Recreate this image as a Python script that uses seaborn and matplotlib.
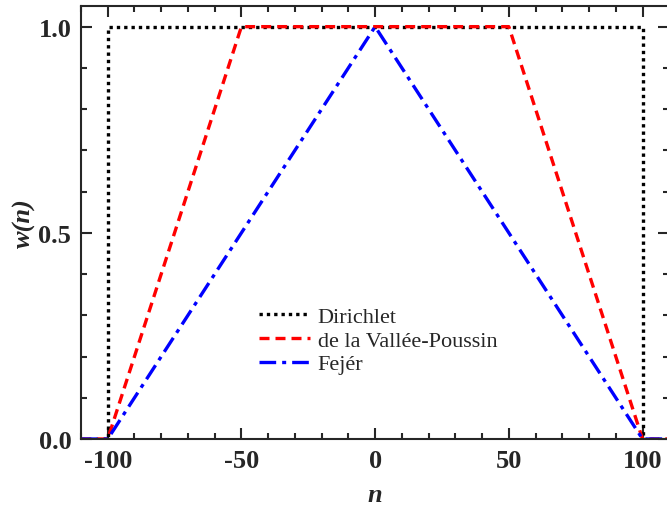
import numpy as np
import pandas as pd
import seaborn as sns
import matplotlib.pyplot as plt
from matplotlib.ticker import MultipleLocator, FormatStrFormatter

# window breakpoints (n, w)
dirichlet_n = [-110, -100, -100, 100, 100, 110]
dirichlet_w = [0, 0, 1, 1, 0, 0]
vp_n = [-110, -100, -50, 50, 100, 110]
vp_w = [0, 0, 1, 1, 0, 0]
fejer_n = [-110, -100, 0, 100, 110]
fejer_w = [0, 0, 1, 0, 0]

sns.set_style("ticks")
plt.rcParams['font.family'] = ['Liberation Serif', 'DejaVu Serif']
plt.rcParams['axes.unicode_minus'] = False

fig = plt.figure(figsize=(6.67, 5.06), dpi=100)
ax = fig.add_axes([0.1214, 0.1304, 0.882, 0.8557])

series = [
    ("Dirichlet", dirichlet_n, dirichlet_w, "black", (0, (1, 1.2))),
    ("de la Vallée-Poussin", vp_n, vp_w, "red", (0, (3, 1.8))),
    ("Fejér", fejer_n, fejer_w, "blue", (0, (5, 1.8, 1.2, 1.8))),
]
for name, n, w, col, ls in series:
    df = pd.DataFrame({"n": n, "w": w})
    sns.lineplot(data=df, x="n", y="w", ax=ax, estimator=None, sort=False,
                 color=col, linestyle=ls, linewidth=2.4, label=name)

ax.set_xlim(-110, 110)
ax.set_ylim(0, 1.05)
ax.xaxis.set_major_locator(MultipleLocator(50))
ax.xaxis.set_minor_locator(MultipleLocator(10))
ax.yaxis.set_major_locator(MultipleLocator(0.5))
ax.yaxis.set_minor_locator(MultipleLocator(0.1))
ax.yaxis.set_major_formatter(FormatStrFormatter('%.1f'))

ax.tick_params(which='both', direction='in', top=True, right=True, width=1.5)
ax.tick_params(which='major', length=8, labelsize=19, pad=7)
ax.tick_params(which='minor', length=4)
for lab in ax.get_xticklabels() + ax.get_yticklabels():
    lab.set_fontweight('bold')
for sp in ax.spines.values():
    sp.set_linewidth(1.5)

ax.set_xlabel("n", fontsize=19, fontweight='bold', style='italic', labelpad=8)
ax.set_ylabel("w(n)", fontsize=19, fontweight='bold', style='italic', labelpad=2)

ax.legend(loc='center left', bbox_to_anchor=(0.268, 0.228), frameon=False,
          fontsize=16, handlelength=2.3, handletextpad=0.35, labelspacing=0.15)

fig.savefig("out.png", dpi=100)
